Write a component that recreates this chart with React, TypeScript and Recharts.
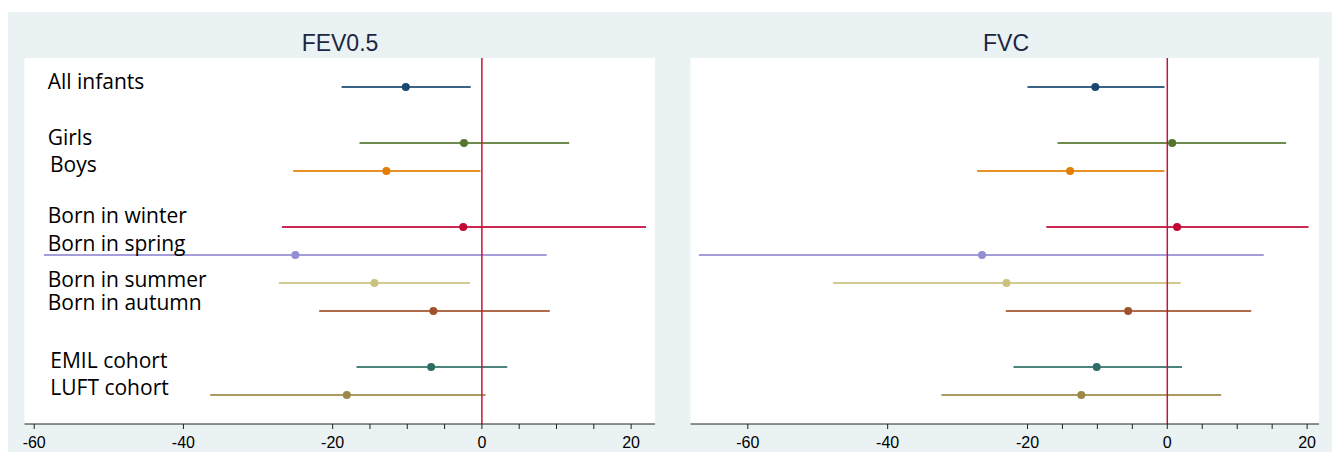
import React from 'react';
import {
  ScatterChart,
  Scatter,
  XAxis,
  YAxis,
  ReferenceLine,
  CartesianGrid,
} from 'recharts';

// ---------- data ----------
const categories = [
  'All infants',
  'Girls',
  'Boys',
  'Born in winter',
  'Born in spring',
  'Born in summer',
  'Born in autumn',
  'EMIL cohort',
  'LUFT cohort',
];
// row slot of each category (gaps separate groups)
const rowSlots = [0, 2, 3, 5, 6, 7, 8, 10, 11];

const fevEstimate = [-10.2, -2.4, -12.8, -2.5, -25.0, -14.4, -6.5, -6.8, -18.1];
const fevLower = [-18.8, -16.4, -25.3, -26.8, -58.7, -27.2, -21.8, -16.8, -36.4];
const fevUpper = [-1.5, 11.7, -0.2, 22.0, 8.7, -1.6, 9.1, 3.4, 0.5];

const fvcEstimate = [-10.3, 0.7, -13.9, 1.4, -26.5, -23.0, -5.6, -10.1, -12.3];
const fvcLower = [-20.0, -15.7, -27.2, -17.3, -67.0, -47.8, -23.1, -22.0, -32.3];
const fvcUpper = [-0.4, 17.0, -0.4, 20.2, 13.8, 1.9, 12.0, 2.1, 7.7];

const majorTicks = [-60, -40, -20, 0, 20];
const allTicks = [-60, -40, -20, -15, -10, -5, 0, 5, 10, 15, 20];

// ---------- styles ----------
const colors = [
  '#1a476f',
  '#55752f',
  '#e37e00',
  '#c10534',
  '#938dd2',
  '#cac27e',
  '#a0522d',
  '#2d6d66',
  '#9c8847',
];
const zeroColor = '#c8133b';
const bg = '#eaf2f3';

// label layout (container coordinates)
const labelX = [39.7, 39.7, 42, 39.7, 39.7, 39.7, 39.7, 42.3, 42.3];
const labelBaseline = [81, 137, 164, 215, 243, 279, 302, 360, 387];

type PanelProps = {
  estimate: number[];
  lower: number[];
  upper: number[];
  domain: [number, number];
  left: number;
  marginLeft: number;
};

function Panel({ estimate, lower, upper, domain, left, marginLeft }: PanelProps) {
  const points = estimate.map((v, i) => ({ x: v, y: rowSlots[i], idx: i }));
  return (
    <div style={{ position: 'absolute', left, top: 0 }}>
      <ScatterChart
        width={652}
        height={444}
        margin={{ top: 50, right: 5, bottom: 0, left: marginLeft }}
      >
        <CartesianGrid fill="#ffffff" stroke="none" horizontal={false} vertical={false} />
        <XAxis
          type="number"
          dataKey="x"
          domain={domain}
          allowDataOverflow
          ticks={allTicks}
          interval={0}
          height={28}
          tickSize={5}
          tickMargin={8}
          axisLine={{ stroke: '#222' }}
          tickLine={{ stroke: '#222' }}
          tick={{ fontSize: 16, fill: '#000', fontFamily: 'Liberation Sans, Arial, sans-serif' }}
          tickFormatter={(v: number) => (majorTicks.includes(v) ? String(v) : '')}
        />
        <YAxis type="number" dataKey="y" domain={[-1.04, 12.04]} reversed hide allowDataOverflow />
        {estimate.map((_, i) => (
          <ReferenceLine
            key={'ci' + i}
            segment={[
              { x: lower[i], y: rowSlots[i] },
              { x: upper[i], y: rowSlots[i] },
            ]}
            stroke={colors[i]}
            strokeWidth={2}
            strokeOpacity={0.85}
            ifOverflow="visible"
          />
        ))}
        <ReferenceLine x={0} stroke={zeroColor} strokeWidth={1.5} />
        <Scatter
          data={points}
          isAnimationActive={false}
          shape={(p: any) => (
            <circle cx={p.cx} cy={p.cy} r={4} fill={colors[p.payload.idx]} />
          )}
        />
      </ScatterChart>
    </div>
  );
}

export default function App() {
  return (
    <div style={{ position: 'relative', width: 1332, height: 444, background: '#fff' }}>
      <div style={{ position: 'absolute', left: 0, top: 4, width: 1332, height: 440, background: bg }} />
      <Panel
        estimate={fevEstimate}
        lower={fevLower}
        upper={fevUpper}
        domain={[-61.3, 23.2]}
        left={0}
        marginLeft={16.5}
      />
      <Panel
        estimate={fvcEstimate}
        lower={fvcLower}
        upper={fvcUpper}
        domain={[-68.2, 21.7]}
        left={664}
        marginLeft={18.5}
      />
      <svg
        width={1332}
        height={444}
        style={{ position: 'absolute', left: 0, top: 0, pointerEvents: 'none' }}
      >
        <text
          x={332}
          y={42.7}
          textAnchor="middle"
          fontFamily="Liberation Sans, Arial, sans-serif"
          fontSize={23}
          fill="#1c2640"
        >
          FEV0.5
        </text>
        <text
          x={998}
          y={42.7}
          textAnchor="middle"
          fontFamily="Liberation Sans, Arial, sans-serif"
          fontSize={23}
          fill="#1c2640"
        >
          FVC
        </text>
        {categories.map((c, i) => (
          <text
            key={c}
            x={labelX[i]}
            y={labelBaseline[i]}
            fontFamily="Open Sans, sans-serif"
            fontSize={21}
            fill="#000"
          >
            {c}
          </text>
        ))}
      </svg>
    </div>
  );
}
